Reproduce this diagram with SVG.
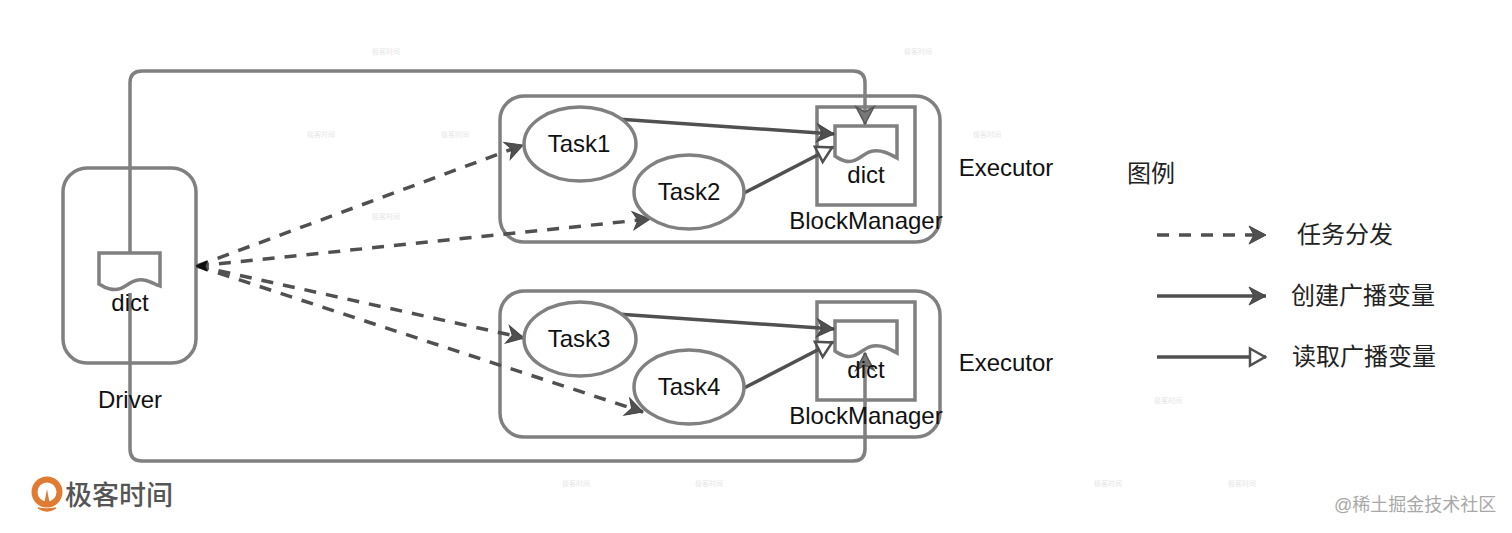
<svg xmlns="http://www.w3.org/2000/svg" width="1512" height="533" viewBox="0 0 1512 533">
<style>
.box{fill:none;stroke:#808080;stroke-width:3.5}
.shape{fill:#fff;stroke:#808080;stroke-width:3.5}
.t{font-family:"Liberation Sans","Noto Sans CJK SC",sans-serif;font-size:24px;fill:#111;text-anchor:middle}
.z{font-family:"Noto Sans CJK SC","Liberation Sans",sans-serif;font-size:24px;fill:#222}
.dash{fill:none;stroke:#505050;stroke-width:3.5;stroke-dasharray:12 10}
.solid{fill:none;stroke:#505050;stroke-width:3.5}
.loop{fill:none;stroke:#808080;stroke-width:3.5}
.wm{font-family:"Noto Sans CJK SC",sans-serif;font-size:7px;fill:#e6e6e6}
</style>
<defs>
<marker id="fill" markerUnits="userSpaceOnUse" markerWidth="24" markerHeight="24" refX="20" refY="12" orient="auto"><path d="M3 3L20 12L3 21L8 12Z" fill="#505050" stroke="#444" stroke-width="1"/></marker>
<marker id="open" markerUnits="userSpaceOnUse" markerWidth="24" markerHeight="24" refX="20" refY="12" orient="auto"><path d="M4 3.5L19 12L4 20.5L4 3.5Z" fill="#fff" stroke="#505050" stroke-width="2.5"/></marker>
<marker id="loophead" markerUnits="userSpaceOnUse" markerWidth="24" markerHeight="24" refX="20" refY="12" orient="auto"><path d="M3 3L20 12L3 21L8 12Z" fill="#777" stroke="#555" stroke-width="1.5"/></marker>
</defs>
<rect width="1512" height="533" fill="#fff"/>
<g id="watermarks">
<text class="wm" x="372" y="54">极客时间</text><text class="wm" x="904" y="54">极客时间</text>
<text class="wm" x="307" y="137">极客时间</text><text class="wm" x="441" y="137">极客时间</text><text class="wm" x="973" y="137">极客时间</text>
<text class="wm" x="372" y="219">极客时间</text><text class="wm" x="1154" y="403">极客时间</text>
<text class="wm" x="562" y="486">极客时间</text><text class="wm" x="695" y="486">极客时间</text><text class="wm" x="1094" y="486">极客时间</text><text class="wm" x="1228" y="486">极客时间</text>
</g>
<g id="driver"><rect class="box" x="63" y="168" width="133" height="195" rx="24"/></g>
<g id="executor1"><rect class="box" x="500" y="96" width="440" height="146" rx="24"/></g>
<g id="executor2"><rect class="box" x="500" y="291" width="440" height="146" rx="24"/></g>
<g id="blockmanager1"><rect class="box" x="817" y="107" width="98" height="98"/></g>
<g id="blockmanager2"><rect class="box" x="817" y="302" width="98" height="98"/></g>
<g id="dict-driver"><path class="shape" d="M99 253H160V286C150 282 146 279 138 280C128 281 124 292 110 289C105 288 102 286 99 284Z"/></g>
<g id="dict1"><path class="shape" d="M835 126H897V158C888 153 882 150 873 151C863 152 858 164 845 161C841 160 838 158 835 156Z"/></g>
<g id="dict2"><path class="shape" d="M835 321H897V353C888 348 882 345 873 346C863 347 858 359 845 356C841 355 838 353 835 351Z"/></g>
<g id="connectors">
<path class="loop" d="M130 253V83Q130 71 142 71H853Q865 71 865 83V124" marker-end="url(#loophead)"/>
<path class="loop" d="M130 293V449Q130 461 142 461H853Q865 461 865 449V353" marker-end="url(#loophead)"/>
<path class="dash" d="M197 266L523 145" marker-end="url(#fill)"/>
<path class="dash" d="M197 266L650 219" marker-end="url(#fill)"/>
<path class="dash" d="M197 266L524 338" marker-end="url(#fill)"/>
<path class="dash" d="M197 266L643 412" marker-end="url(#fill)"/>
<path d="M196 266L207 261L205 266L207 271Z" fill="#111" stroke="#111"/>
<path class="solid" d="M617 119L834 134" marker-end="url(#fill)"/>
<path class="solid" d="M744 193L833 147" marker-end="url(#open)"/>
<path class="solid" d="M617 314L834 329" marker-end="url(#fill)"/>
<path class="solid" d="M744 388L833 342" marker-end="url(#open)"/>
<path class="dash" d="M1157 235H1266" marker-end="url(#fill)"/>
<path class="solid" d="M1157 296H1266" marker-end="url(#fill)"/>
<path class="solid" d="M1157 357H1266" marker-end="url(#open)"/>
</g>
<g id="task1"><ellipse class="shape" cx="580" cy="144" rx="56" ry="37"/><text class="t" x="579" y="152">Task1</text></g>
<g id="task2"><ellipse class="shape" cx="689" cy="192" rx="55" ry="37"/><text class="t" x="689" y="200">Task2</text></g>
<g id="task3"><ellipse class="shape" cx="580" cy="339" rx="56" ry="37"/><text class="t" x="579" y="347">Task3</text></g>
<g id="task4"><ellipse class="shape" cx="689" cy="387" rx="55" ry="37"/><text class="t" x="689" y="395">Task4</text></g>
<g id="labels">
<text class="t" x="130" y="311">dict</text>
<text class="t" x="866" y="183">dict</text>
<text class="t" x="866" y="378">dict</text>
<text class="t" x="130" y="408">Driver</text>
<text class="t" x="866" y="229">BlockManager</text>
<text class="t" x="866" y="424">BlockManager</text>
<text class="t" x="1006" y="176">Executor</text>
<text class="t" x="1006" y="371">Executor</text>
<text class="z" x="1127" y="182">图例</text>
<text class="z" x="1297" y="243">任务分发</text>
<text class="z" x="1291" y="304">创建广播变量</text>
<text class="z" x="1292" y="365">读取广播变量</text>
</g>
<g id="logo">
<circle cx="47" cy="492" r="12.5" fill="none" stroke="#e07b33" stroke-width="6"/>
<path d="M38 508Q47 514 56 508Q47 510 38 508Z" fill="#e07b33" stroke="#e07b33" stroke-width="1.5"/>
<path d="M44 505L47 489L50 505Z" fill="#e07b33"/>
<text x="65" y="505" font-family="'Noto Sans CJK SC',sans-serif" font-size="27" font-weight="500" fill="#555">极客时间</text>
</g>
<text x="1334" y="511" font-family="'Liberation Sans','Noto Sans CJK SC',sans-serif" font-size="18" fill="#a8a8a8">@稀土掘金技术社区</text>
</svg>
